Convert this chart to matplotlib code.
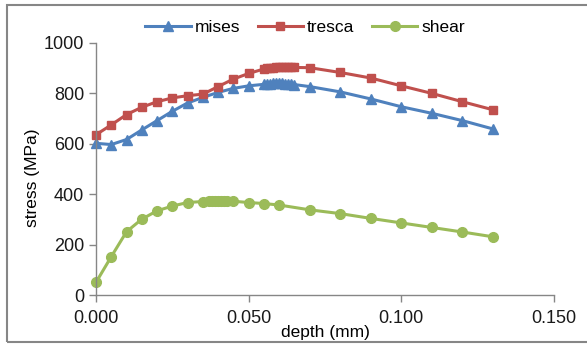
import matplotlib.pyplot as plt
from matplotlib.patches import Rectangle
from matplotlib.ticker import FormatStrFormatter

plt.rcParams['font.family'] = ['Liberation Sans', 'DejaVu Sans']

# depth (mm) for mises / tresca
depth_mt = [0.0, 0.005, 0.01, 0.015, 0.02, 0.025, 0.03, 0.035, 0.04, 0.045, 0.05, 0.055,
            0.056, 0.057, 0.058, 0.059, 0.06, 0.061, 0.062, 0.063, 0.064, 0.065,
            0.07, 0.08, 0.09, 0.1, 0.11, 0.12, 0.13]
mises = [602, 597, 617, 655, 692, 729, 762, 784, 804, 820, 830, 836,
         838, 839, 840, 840, 840, 840, 839, 838, 837, 835,
         827, 806, 778, 747, 721, 692, 659]
tresca = [636, 675, 716, 745, 767, 782, 791, 797, 827, 857, 879, 897,
          899, 901, 902, 903, 904, 904, 904, 904, 904, 903,
          902, 883, 861, 830, 800, 767, 735]

# depth (mm) for shear
depth_sh = [0.0, 0.005, 0.01, 0.015, 0.02, 0.025, 0.03, 0.035,
            0.037, 0.038, 0.039, 0.04, 0.041, 0.042, 0.043,
            0.045, 0.05, 0.055, 0.06, 0.07, 0.08, 0.09, 0.1, 0.11, 0.12, 0.13]
shear = [50, 152, 251, 301, 334, 353, 367, 371,
         372, 372, 372, 372, 372, 372, 372,
         372, 367, 363, 357, 338, 323, 304, 286, 268, 250, 231]

fig = plt.figure(figsize=(5.87, 3.49), dpi=100)
ax = fig.add_axes([0.1635, 0.1547, 0.7803, 0.7221])

ax.plot(depth_mt, mises, color='#4F81BD', lw=2.2, marker='^', ms=7, label='mises', clip_on=False)
ax.plot(depth_mt, tresca, color='#C0504D', lw=2.2, marker='s', ms=5.8, label='tresca', clip_on=False)
ax.plot(depth_sh, shear, color='#9BBB59', lw=2.2, marker='o', ms=7, label='shear', clip_on=False)

ax.set_xlim(0, 0.15)
ax.set_ylim(0, 1000)
ax.set_xticks([0, 0.05, 0.1, 0.15])
ax.set_yticks(range(0, 1001, 200))
ax.xaxis.set_major_formatter(FormatStrFormatter('%.3f'))

for s in ['top', 'right']:
    ax.spines[s].set_visible(False)
for s in ['left', 'bottom']:
    ax.spines[s].set_color('#868686')
    ax.spines[s].set_linewidth(1.0)
ax.tick_params(colors='#868686', labelcolor='#1a1a1a', labelsize=13, length=5, width=1.0)
ax.tick_params(axis='x', pad=6)

ax.set_xlabel('depth (mm)', fontsize=12.5)
ax.xaxis.set_label_coords(0.5, -0.12)
ax.set_ylabel('stress (MPa)', fontsize=12.5)
ax.yaxis.set_label_coords(-0.122, 0.464)

leg = fig.legend(loc='center', bbox_to_anchor=(0.52, 0.92), ncol=3, frameon=False,
                 fontsize=12.5, handlelength=2.6, handletextpad=0.25, columnspacing=1.0)

# outer chart border (right edge lies outside the picture)
fig.patches.append(Rectangle((7 / 587, 7 / 349), 590 / 587, 337 / 349, transform=fig.transFigure,
                             fill=False, edgecolor='#868686', lw=1.5))

fig.savefig('out.png', dpi=100)
